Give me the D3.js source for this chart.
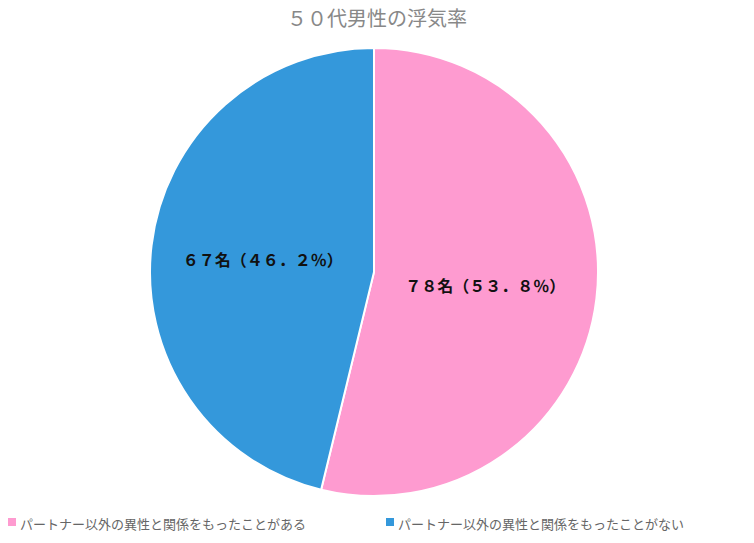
<!DOCTYPE html>
<html><head><meta charset="utf-8">
<script src="https://cdn.jsdelivr.net/npm/d3@7"></script>
<style>body{margin:0;background:#fff}</style>
</head><body><svg id="c" width="754" height="543"></svg>
<script>
const categories = ["パートナー以外の異性と関係をもったことがある","パートナー以外の異性と関係をもったことがない"];
const values = [78, 67];
const labels = ["７８名（５３．８％）","６７名（４６．２％）"];
const colors = ["#fe9bd0","#3498db"];
const title = "５０代男性の浮気率";

const svg = d3.select("#c");
const font = "'Noto Sans CJK JP', sans-serif";
svg.append("text").attr("x",377).attr("y",26).attr("text-anchor","middle")
  .attr("font-family",font).attr("font-size",20).attr("fill","#888").text(title);

const cx=374, cy=272, r=224;
const pie = d3.pie().sort(null).value(d=>d)(values);
const arc = d3.arc().innerRadius(0).outerRadius(r);
const g = svg.append("g").attr("transform",`translate(${cx},${cy})`);
g.selectAll("path").data(pie).join("path").attr("d",arc)
  .attr("fill",(d,i)=>colors[i]).attr("stroke","#fff").attr("stroke-width",2);
const la = d3.arc().innerRadius(r*0.5).outerRadius(r*0.5);
g.selectAll("text").data(pie).join("text")
  .attr("transform",d=>{const c=la.centroid(d);return `translate(${c[0]},${c[1]})`;})
  .attr("text-anchor","middle").attr("dominant-baseline","central")
  .attr("font-family",font).attr("font-weight","bold").attr("font-size",16).attr("fill","#111")
  .text((d,i)=>labels[i]);

const leg = svg.append("g").attr("transform","translate(0,523)");
const xs=[8,386];
categories.forEach((c,i)=>{
  leg.append("rect").attr("x",xs[i]).attr("y",-5).attr("width",8).attr("height",8).attr("fill",colors[i]);
  leg.append("text").attr("x",xs[i]+12).attr("y",0).attr("dominant-baseline","central")
    .attr("font-family",font).attr("font-size",13).attr("fill","#666").text(c);
});
</script></body></html>
